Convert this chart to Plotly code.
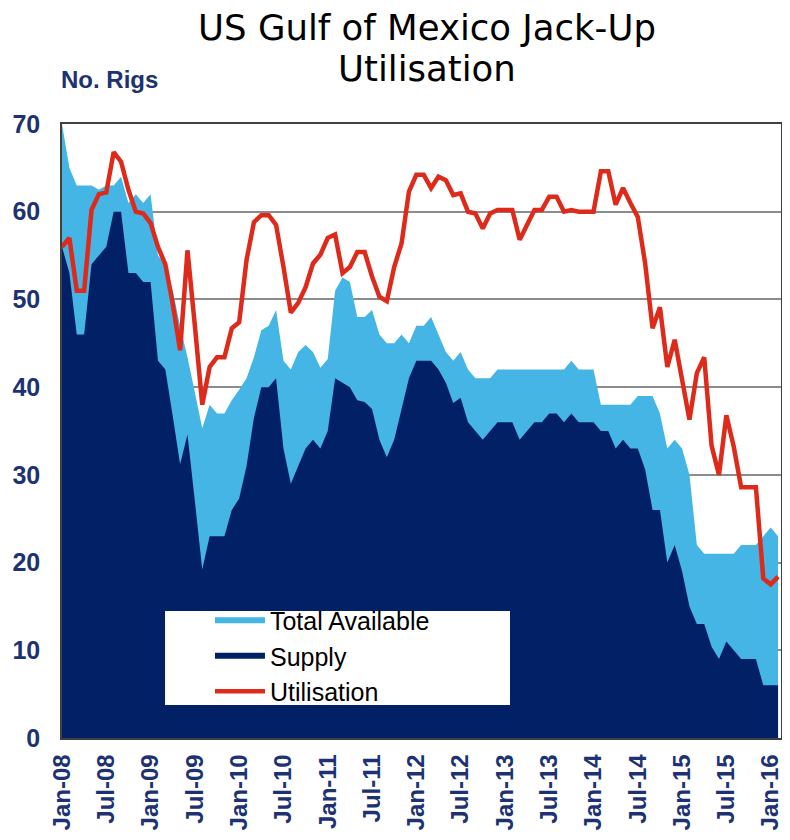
import pandas as pd
import plotly.graph_objects as go

# monthly, Jan-08 .. Feb-16
months = pd.date_range("2008-01-01", periods=98, freq="MS").strftime("%b-%y").tolist()

total_available = [70, 65, 63, 63, 63, 62.5, 63, 63, 64, 61, 62, 61, 62, 55, 54, 51, 47, 43.4, 39.4, 35.3,
                   38, 37, 37, 38.5, 39.7, 41, 43.4, 46.5, 47, 48.8, 43, 42, 44, 44.8, 44, 42.2, 43.2, 51, 52.5, 52,
                   48, 48, 48.8, 46, 45, 45, 46, 45, 47, 47, 48, 46, 44, 43, 44, 42, 41, 41, 41, 42,
                   42, 42, 42, 42, 42, 42, 42, 42, 42, 43, 42, 42, 42, 38, 38, 38, 38, 38, 39, 39,
                   39, 37, 33, 34, 33, 30, 22, 21, 21, 21, 21, 21, 22, 22, 22, 23, 24, 23]

supply = [56, 53, 46, 46, 54, 55, 56, 60, 60, 53, 53, 52, 52, 43, 42, 36.7, 31.2, 34.6, 27, 19.2,
          23, 23, 23, 26, 27.3, 31, 36.5, 40, 40, 41, 33, 29, 31, 33, 34, 33, 35, 41, 40.5, 40,
          38.5, 38.3, 37.5, 34, 32, 34, 37.5, 41, 43, 43, 43, 42, 40.5, 38.2, 38.8, 36, 35, 34, 35, 36,
          36, 36, 34, 35, 36, 36, 37, 37, 36, 37, 36, 36, 36, 35, 35, 33, 34, 33, 33, 30.6,
          26, 26, 20, 22, 19, 15, 13, 13, 10.4, 9, 11, 10, 9, 9, 9, 6, 6, 6]

utilisation = [56, 57, 51, 51, 60.2, 62, 62.2, 66.8, 65.7, 62.5, 60, 59.8, 58.7, 56, 54, 49.5, 44.2, 55.6, 47, 38,
               42.3, 43.4, 43.4, 46.7, 47.4, 54.5, 58.8, 59.6, 59.6, 58.5, 53.7, 48.5, 49.6, 51.4, 54.1, 55.1, 57, 57.4, 53, 53.7,
               55.4, 55.4, 52.6, 50.3, 49.8, 53.7, 56.4, 62.3, 64.2, 64.2, 62.7, 64, 63.6, 61.9, 62.1, 60, 59.8, 58.1, 59.8, 60.2,
               60.2, 60.2, 56.8, 58.5, 60.2, 60.2, 61.7, 61.7, 60, 60.2, 60, 60, 60, 64.6, 64.6, 60.8, 62.7, 61, 59.4, 54.1,
               46.7, 49.1, 42.3, 45.4, 41, 36.3, 41.6, 43.4, 33.3, 30, 36.8, 33.2, 28.6, 28.6, 28.6, 18.2, 17.5, 18.4]

tick_labels = ["Jan-08", "Jul-08", "Jan-09", "Jul-09", "Jan-10", "Jul-10", "Jan-11", "Jul-11", "Jan-12",
               "Jul-12", "Jan-13", "Jul-13", "Jan-14", "Jul-14", "Jan-15", "Jul-15", "Jan-16"]

navy_text = "#1C3272"
title_font = dict(family="DejaVu Sans", size=35.5, color="black")

fig = go.Figure()
fig.add_trace(go.Scatter(x=months, y=total_available, name="Total Available", mode="none",
                         fill="tozeroy", fillcolor="#45B5E6"))
fig.add_trace(go.Scatter(x=months, y=supply, name="Supply", mode="none",
                         fill="tozeroy", fillcolor="#012066"))
fig.add_trace(go.Scatter(x=months, y=utilisation, name="Utilisation", mode="lines",
                         line=dict(color="#DD2A1B", width=4.5)))

# the page body adds an 8px margin all round, so keep the figure inside 774x824
fig.update_layout(
    width=774, height=824, autosize=False,
    margin=dict(l=54, r=1, t=116, b=94),
    plot_bgcolor="white", paper_bgcolor="white",
    # title split over two pieces to get the tighter line spacing of the original
    title=dict(text="US Gulf of Mexico Jack-Up", x=0.5077, xanchor="center", xref="paper",
               yref="container", y=0.9757, yanchor="middle", font=title_font),
    legend=dict(x=0.2058, y=0.2288, xanchor="left", yanchor="top", bgcolor="rgba(0,0,0,0)",
                font=dict(family="Liberation Sans", size=25, color="black"),
                tracegroupgap=0, itemwidth=50),
    shapes=[dict(type="rect", xref="paper", yref="paper", x0=0.1433, x1=0.6231, y0=0.0537, y1=0.2068,
                 fillcolor="white", line=dict(width=0), layer="above")],
    annotations=[
        dict(text="Utilisation", xref="paper", yref="paper", x=0.5077, y=1.0912,
             xanchor="center", yanchor="middle", showarrow=False, font=title_font),
        dict(text="<b>No. Rigs</b>", xref="paper", yref="paper", x=-0.004, y=1.0717,
             xanchor="left", yanchor="middle", showarrow=False,
             font=dict(family="Liberation Sans", size=24, color=navy_text)),
    ],
)
fig.update_xaxes(type="category", range=[0, 97.4], tickvals=tick_labels, ticktext=tick_labels,
                 tickangle=-90, showgrid=False, showline=True, mirror=True, linecolor="#404040",
                 linewidth=1.5, ticks="", ticklabelstandoff=5, automargin=False,
                 tickfont=dict(family="Liberation Sans", size=24, color=navy_text, weight="bold"))
fig.update_yaxes(range=[0, 70], dtick=10, showgrid=True, gridcolor="#8C8C8C", gridwidth=1.5,
                 showline=True, mirror=True, linecolor="#404040", linewidth=1.5, ticks="",
                 ticklabelstandoff=15, zeroline=False, automargin=False,
                 tickfont=dict(family="Liberation Sans", size=25, color=navy_text, weight="bold"))

fig.write_html("out.html")
